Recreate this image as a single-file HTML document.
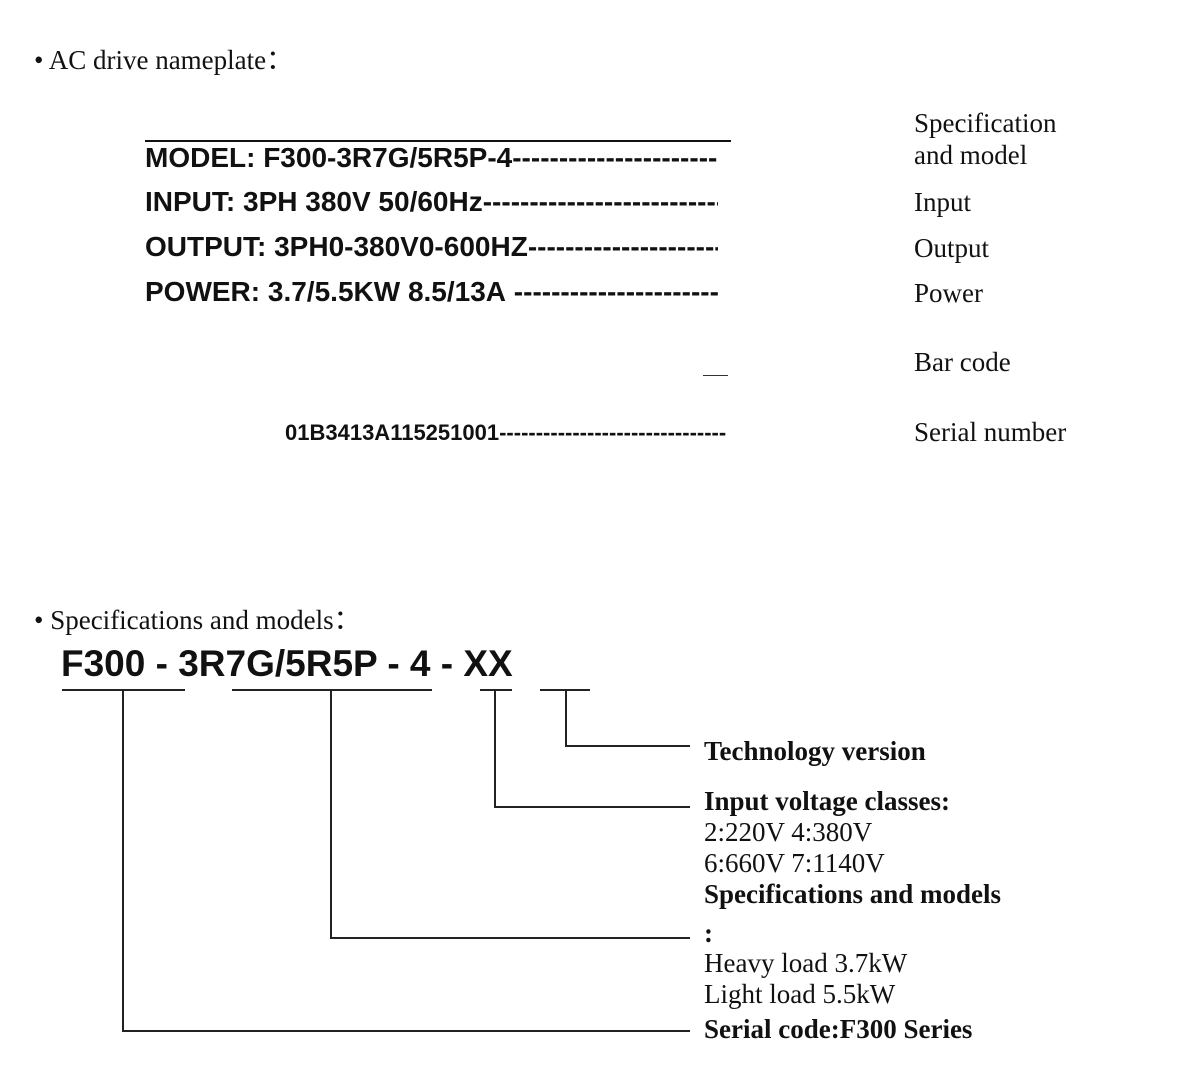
<!DOCTYPE html>
<html><head><style>
body{margin:0;width:1200px;height:1088px;background:#fff;position:relative;overflow:hidden;font-family:"Liberation Serif",serif;color:#111}
.a{position:absolute;white-space:nowrap}
.s{font-family:"Liberation Sans",sans-serif;font-weight:bold}
.r{font-size:27px;line-height:32px}
.b{font-size:27px;line-height:31px}
.ln{display:flex;align-items:baseline;overflow:hidden}
.ln i{font-style:normal;flex:1;overflow:hidden;letter-spacing:0}
</style></head><body>
<div class="a" style="left:34px;top:38px;font-size:27px">• AC drive nameplate：</div>
<div class="a" style="left:145px;top:140px;width:586px;height:2px;background:#111"></div>
<div class="a s ln" style="left:145px;top:142px;width:573px;font-size:28px">MODEL: F300-3R7G/5R5P-4<i>-------------------------------------------------</i></div>
<div class="a s ln" style="left:145px;top:186px;width:573px;font-size:28px">INPUT: 3PH 380V 50/60Hz<i>-------------------------------------------------</i></div>
<div class="a s ln" style="left:145px;top:231px;width:573px;font-size:28px">OUTPUT: 3PH0-380V0-600HZ<i>-------------------------------------------------</i></div>
<div class="a s ln" style="left:145px;top:276px;width:573px;font-size:28px">POWER: 3.7/5.5KW 8.5/13A&nbsp;<i>-------------------------------------------------</i></div>
<div class="a" style="left:703px;top:375px;width:25px;height:1px;background:#333"></div>
<div class="a s ln" style="left:285px;top:420px;width:441px;font-size:22px">01B3413A115251001<i>-------------------------------------------------------</i></div>
<div class="a r" style="left:914px;top:107px">Specification<br>and model</div>
<div class="a r" style="left:914px;top:186px">Input</div>
<div class="a r" style="left:914px;top:232px">Output</div>
<div class="a r" style="left:914px;top:277px">Power</div>
<div class="a r" style="left:914px;top:346px">Bar code</div>
<div class="a r" style="left:914px;top:416px">Serial number</div>

<div class="a" style="left:34px;top:598px;font-size:27px">• Specifications and models：</div>
<div class="a s" style="left:61px;top:643px;font-size:37px;line-height:42px">F300 - 3R7G/5R5P - 4 - XX</div>
<svg class="a" style="left:0;top:0" width="1200" height="1088">
<g stroke="#222" stroke-width="2" fill="none">
<line x1="62" y1="690" x2="185" y2="690"/>
<line x1="232" y1="690" x2="432" y2="690"/>
<line x1="480" y1="690" x2="512" y2="690"/>
<line x1="540" y1="690" x2="590" y2="690"/>
<polyline points="123,690 123,1031 690,1031"/>
<polyline points="331,690 331,938 690,938"/>
<polyline points="495,690 495,807 690,807"/>
<polyline points="566,690 566,746 690,746"/>
</g></svg>
<div class="a b" style="left:704px;top:736px;font-weight:bold">Technology version</div>
<div class="a b" style="left:704px;top:786px"><b>Input voltage classes:</b><br>2:220V 4:380V<br>6:660V 7:1140V<br><b>Specifications and models</b></div>
<div class="a b" style="left:704px;top:918px;font-weight:bold">:</div>
<div class="a b" style="left:704px;top:948px">Heavy load 3.7kW<br>Light load 5.5kW</div>
<div class="a b" style="left:704px;top:1014px;font-weight:bold">Serial code:F300 Series</div>
</body></html>
